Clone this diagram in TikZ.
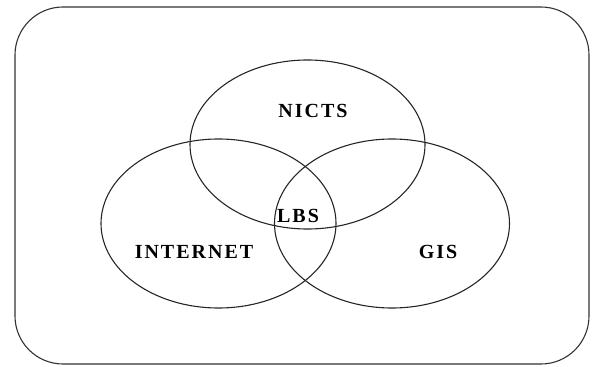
\documentclass[tikz,border=0pt]{standalone}
\usepackage{fontspec}
\setmainfont{Liberation Serif}
\usetikzlibrary{shapes.geometric}

\begin{document}
\begin{tikzpicture}[x=1pt,y=-1pt,
    frame/.style ={draw=black!80, line width=1.1pt, rounded corners=48pt},
    set/.style ={ellipse, draw=black!85, line width=1.1pt, inner sep=0pt,
                 minimum width=235pt, minimum height=169pt},
    label/.style ={font=\fontsize{20}{22}\selectfont\bfseries\addfontfeature{LetterSpace=10},
                   inner sep=0pt}]
   \useasboundingbox (0,0) rectangle (593,366);
   \draw[frame] (15,7) rectangle (589,364);
   \node[set] (N) at (307.5,144.5) {};
   \node[set] (I) at (218.5,223.5) {};
   \node[set] (G) at (392,223.5) {};
   \node[label] (nicts) at (313,111) {NICTS};
   \node[label] (internet) at (194,252) {INTERNET};
   \node[label] (gis) at (438,252) {GIS};
   \node[label] (lbs) at (298,216) {LBS};
 \end{tikzpicture}
\end{document}
